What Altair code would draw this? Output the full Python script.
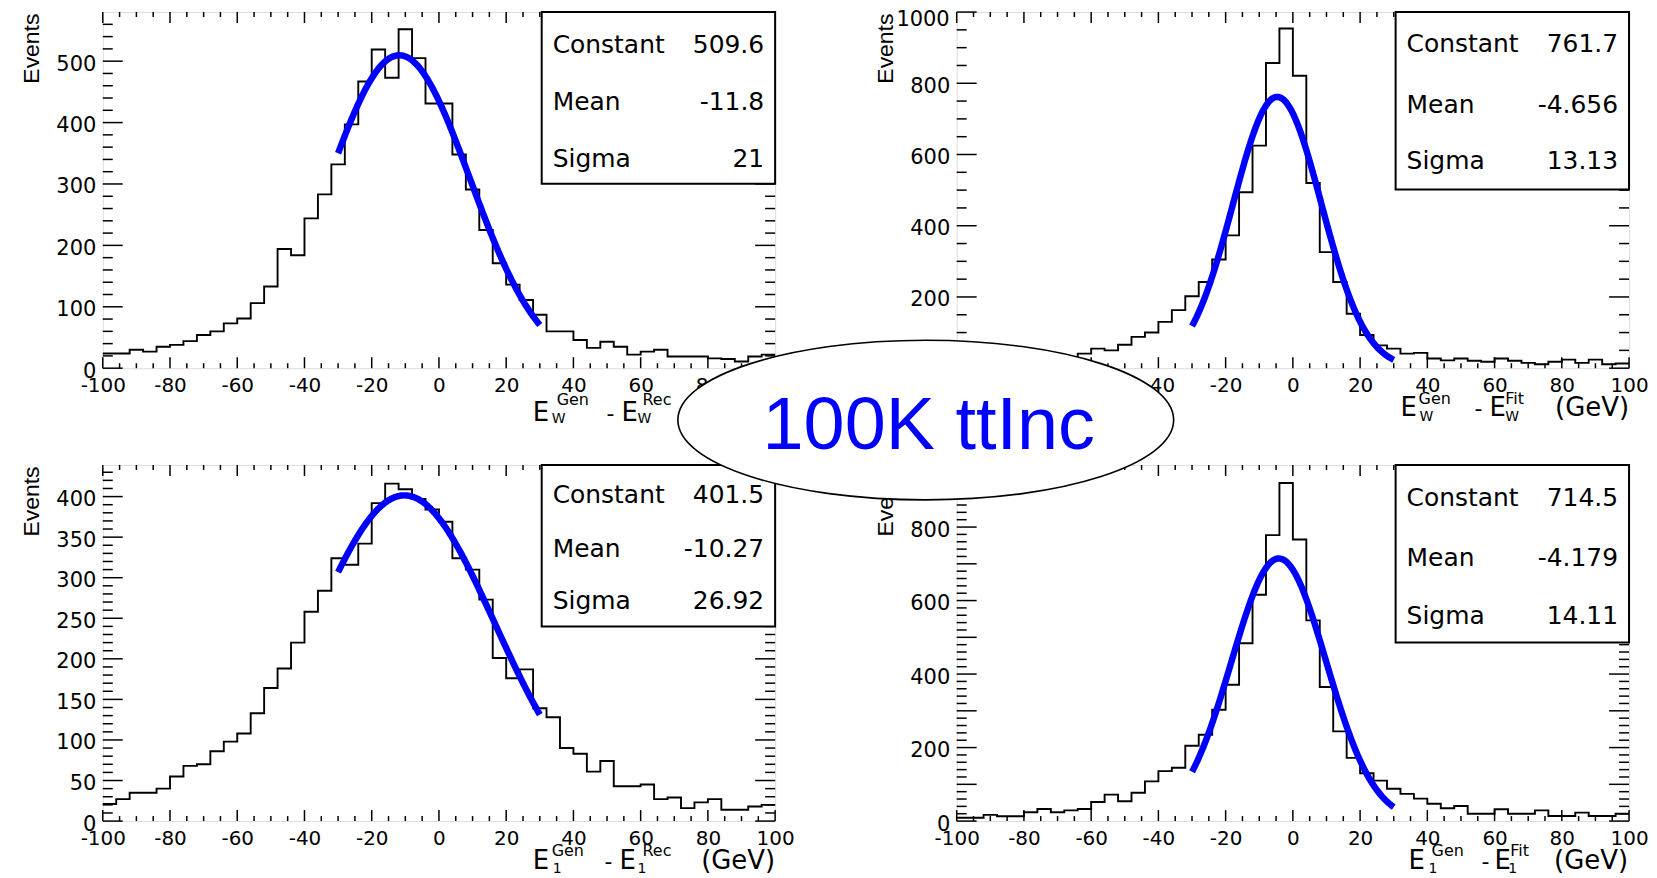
import altair as alt
import pandas as pd

# ---------------- data ----------------
BIN_EDGES = list(range(-100, 101, 4))          # 50 bins of 4 GeV
X_MAJOR = [-100, -80, -60, -40, -20, 0, 20, 40, 60, 80, 100]
X_MINOR = [v for v in range(-95, 100, 5) if v % 20 != 0]

TL_COUNTS = [24, 24, 30, 27, 35, 38, 44, 54, 60, 73,
             81, 106, 133, 194, 184, 244, 283, 332, 397, 467,
             519, 473, 552, 505, 431, 431, 348, 291, 225, 171,
             136, 111, 87, 60, 60, 46, 33, 43, 35, 22,
             27, 30, 19, 19, 19, 16, 15, 11, 19, 22]
TR_COUNTS = [10, 12, 12, 15, 17, 20, 22, 27, 30, 41,
             55, 50, 66, 88, 100, 130, 163, 202, 242, 305,
             373, 494, 625, 857, 954, 821, 520, 326, 242, 153,
             93, 64, 55, 41, 43, 27, 22, 27, 21, 18,
             27, 21, 15, 11, 18, 24, 15, 24, 11, 13]
BL_COUNTS = [21, 27, 35, 35, 40, 55, 68, 70, 86, 98,
             108, 133, 164, 188, 220, 258, 284, 324, 316, 342,
             392, 416, 409, 397, 384, 369, 324, 310, 273, 201,
             176, 187, 139, 128, 90, 83, 61, 74, 43, 43,
             45, 27, 29, 16, 23, 27, 14, 14, 18, 20]
BR_COUNTS = [9, 9, 17, 13, 13, 24, 33, 24, 29, 33,
             52, 72, 54, 77, 108, 136, 145, 205, 235, 303,
             371, 484, 616, 778, 920, 766, 546, 365, 244, 172,
             130, 110, 88, 74, 61, 47, 35, 41, 20, 20,
             32, 20, 20, 29, 14, 14, 23, 14, 14, 20]

STAT_NAMES = ["Constant", "Mean", "Sigma"]
TL_FIT = [509.6, -11.8, 21.0]
TR_FIT = [761.7, -4.656, 13.13]
BL_FIT = [401.5, -10.27, 26.92]
BR_FIT = [714.5, -4.179, 14.11]
TL_FIT_TEXT = ["509.6", "-11.8", "21"]
TR_FIT_TEXT = ["761.7", "-4.656", "13.13"]
BL_FIT_TEXT = ["401.5", "-10.27", "26.92"]
BR_FIT_TEXT = ["714.5", "-4.179", "14.11"]
FIT_RANGE = [-30, 30]

TL_YMAX, TR_YMAX, BL_YMAX, BR_YMAX = 580, 1000, 439, 969
TL_YMAJOR = [0, 100, 200, 300, 400, 500]
TR_YMAJOR = [0, 200, 400, 600, 800, 1000]
BL_YMAJOR = [0, 50, 100, 150, 200, 250, 300, 350, 400]
BR_YMAJOR = [0, 100, 200, 300, 400, 500, 600, 700, 800, 900]
TL_YMINOR = [v for v in range(20, 580, 20) if v % 100 != 0]
TR_YMINOR = [v for v in range(50, 1000, 50) if v % 200 != 0]
BL_YMINOR = [v for v in range(10, 439, 10) if v % 50 != 0]
BR_YMINOR = [v for v in range(20, 969, 20) if v % 100 != 0]
TR_TOP_LABEL = "1000"   # label of the top tick, drawn inside the top margin

# ---------------- styling ----------------
W, H = 674, 357
NUM_FONT = "DejaVu Sans"
TXT_FONT = "Liberation Sans"
ONE = pd.DataFrame({"k": [0]})


def text_at(txt, x, y, size, align="left", baseline="alphabetic", font=NUM_FONT, color="black"):
    return alt.Chart(ONE).mark_text(
        text=txt, align=align, baseline=baseline, font=font,
        fontSize=size, color=color
    ).encode(x=alt.value(x), y=alt.value(y))


def panel(counts, fit, fit_text, ymax, ymajor, yminor, box_h, rows, title,
          ylabels=None, extra=()):
    xs = alt.Scale(domain=[-100, 100], nice=False, zero=False)
    ys = alt.Scale(domain=[0, ymax], nice=False, zero=True)
    if ylabels is None:
        ylabels = ymajor

    xaxis = alt.Axis(values=X_MAJOR, labelExpr="'' + datum.value", ticks=False, tickSize=0,
                     domain=False, grid=False, labelFlush=False, labelOverlap=False,
                     labelPadding=7, labelFont=NUM_FONT, labelFontSize=20,
                     labelColor="black", title=None)
    yaxis = alt.Axis(values=ylabels, labelExpr="'' + datum.value", ticks=False, tickSize=0,
                     domain=False, grid=False, labelOverlap=False, labelFlush=False,
                     labelPadding=7, labelOffset=3, labelFont=NUM_FONT, labelFontSize=21,
                     labelColor="black", title="Events", titleFont=TXT_FONT,
                     titleFontSize=23, titleFontWeight="normal", titleColor="black",
                     titleAngle=270, titleAlign="right", titleBaseline="alphabetic",
                     titleX=-64, titleY=1)

    hist_df = pd.DataFrame({"x": BIN_EDGES, "n": counts + [counts[-1]]})
    hist = alt.Chart(hist_df).mark_line(
        interpolate="step-after", color="black", strokeWidth=1.9
    ).encode(x=alt.X("x:Q", scale=xs, axis=xaxis), y=alt.Y("n:Q", scale=ys, axis=yaxis))

    c, m, s = fit
    curve = alt.Chart(alt.sequence(start=FIT_RANGE[0], stop=FIT_RANGE[1] + 0.01, step=0.25, as_="x")
    ).transform_calculate(
        n=f"{c} * exp(-0.5 * pow((datum.x - ({m})) / {s}, 2))"
    ).mark_line(color="#0000ff", strokeWidth=6.5, strokeCap="butt").encode(
        x=alt.X("x:Q", scale=xs), y=alt.Y("n:Q", scale=ys))

    def xticks(vals, ln):
        d = pd.DataFrame({"x": vals})
        b = alt.Chart(d).mark_rule(color="black", strokeWidth=1.5).encode(
            x=alt.X("x:Q", scale=xs), y=alt.value(H), y2=alt.value(H - ln))
        t = alt.Chart(d).mark_rule(color="black", strokeWidth=1.5).encode(
            x=alt.X("x:Q", scale=xs), y=alt.value(0), y2=alt.value(ln))
        return [b, t]

    def yticks(vals, ln):
        d = pd.DataFrame({"n": vals})
        l = alt.Chart(d).mark_rule(color="black", strokeWidth=1.5).encode(
            y=alt.Y("n:Q", scale=ys), x=alt.value(0), x2=alt.value(ln))
        r = alt.Chart(d).mark_rule(color="black", strokeWidth=1.5).encode(
            y=alt.Y("n:Q", scale=ys), x=alt.value(W), x2=alt.value(W - ln))
        return [l, r]

    layers = [hist, curve]
    layers += xticks(X_MAJOR, 11) + xticks(X_MINOR, 5)
    layers += yticks(ymajor, 20) + yticks(yminor, 10)

    box = alt.Chart(ONE).mark_rect(fill="white", stroke="black", strokeWidth=2).encode(
        x=alt.value(440), x2=alt.value(W), y=alt.value(0), y2=alt.value(box_h))
    layers.append(box)
    for name, val, yy in zip(STAT_NAMES, fit_text, rows):
        layers.append(text_at(name, 451, yy + 1.5, 25, baseline="middle"))
        layers.append(text_at(val, 663, yy + 1.5, 25, align="right", baseline="middle"))

    for piece in title:
        txt, x, y, size = piece[:4]
        align = piece[4] if len(piece) > 4 else "left"
        layers.append(text_at(txt, x, y, size, align=align))

    layers += list(extra)
    return alt.layer(*layers).properties(width=W, height=H)


TL_TITLE = [("E", 431, 410, 26), ("Gen", 455, 394, 16), ("W", 450, 412, 14),
            ("-", 505, 410, 22), ("E", 520, 410, 26), ("Rec", 541, 394, 16),
            ("W", 536, 412, 14), ("(GeV)", 674, 410, 26, "right")]
TR_TITLE = [("E", 445, 405, 26), ("Gen", 463, 393, 16), ("W", 464, 410, 14),
            ("-", 519, 405, 22), ("E", 534, 405, 26), ("Fit", 550, 393, 16),
            ("W", 550, 410, 14), ("(GeV)", 674, 405, 26, "right")]
BL_TITLE = [("E", 431, 405, 26), ("Gen", 450, 392, 16), ("1", 451, 409, 14),
            ("-", 503, 405, 22), ("E", 518, 405, 26), ("Rec", 541, 392, 16),
            ("1", 536, 409, 14), ("(GeV)", 674, 405, 26, "right")]
BR_TITLE = [("E", 453, 405, 26), ("Gen", 476, 392, 16), ("1", 473, 409, 14),
            ("-", 526, 405, 22), ("E", 539, 405, 26), ("Fit", 555, 392, 16),
            ("1", 553, 409, 14), ("(GeV)", 673, 405, 26, "right")]

# ellipse + label drawn last (on top of everything), positioned relative to bottom-right panel
RY = 0.322
K = 0.5523
ELLIPSE_PATH = (f"M -1 0 C -1 {-K*RY:.4f} {-K:.4f} {-RY} 0 {-RY} "
                f"C {K:.4f} {-RY} 1 {-K*RY:.4f} 1 0 "
                f"C 1 {K*RY:.4f} {K:.4f} {RY} 0 {RY} "
                f"C {-K:.4f} {RY} -1 {K*RY:.4f} -1 0 Z")
ellipse = alt.Chart(ONE).mark_point(
    shape=ELLIPSE_PATH, size=497 * 497, filled=True, fill="white", stroke="black",
    strokeWidth=1.6, opacity=1
).encode(x=alt.value(-31), y=alt.value(-45))
label = text_at("100K ttInc", -28, -16, 74, align="center", font=TXT_FONT, color="#0000ff")

tr_top = text_at(TR_TOP_LABEL, -7, -3, 21, align="right", baseline="top")

tl = panel(TL_COUNTS, TL_FIT, TL_FIT_TEXT, TL_YMAX, TL_YMAJOR, TL_YMINOR, 172,
           [31.7, 88.3, 145.7], TL_TITLE)
tr = panel(TR_COUNTS, TR_FIT, TR_FIT_TEXT, TR_YMAX, TR_YMAJOR, TR_YMINOR, 178,
           [31, 91.6, 148.3], TR_TITLE, ylabels=TR_YMAJOR[:-1], extra=[tr_top])
bl = panel(BL_COUNTS, BL_FIT, BL_FIT_TEXT, BL_YMAX, BL_YMAJOR, BL_YMINOR, 162,
           [28.3, 82.3, 135], BL_TITLE)
br = panel(BR_COUNTS, BR_FIT, BR_FIT_TEXT, BR_YMAX, BR_YMAJOR, BR_YMINOR, 178,
           [31.7, 92.3, 150], BR_TITLE, extra=[ellipse, label])

chart = alt.concat(tl, tr, bl, br, columns=2, spacing={"row": 97, "column": 182},
                   bounds="flush").properties(
    padding={"left": 12, "top": -1, "right": 0, "bottom": 0}
).configure_view(stroke="black", strokeWidth=2).configure(background="white")

chart.save("out.html", embed_options={"renderer": "svg", "actions": False})
